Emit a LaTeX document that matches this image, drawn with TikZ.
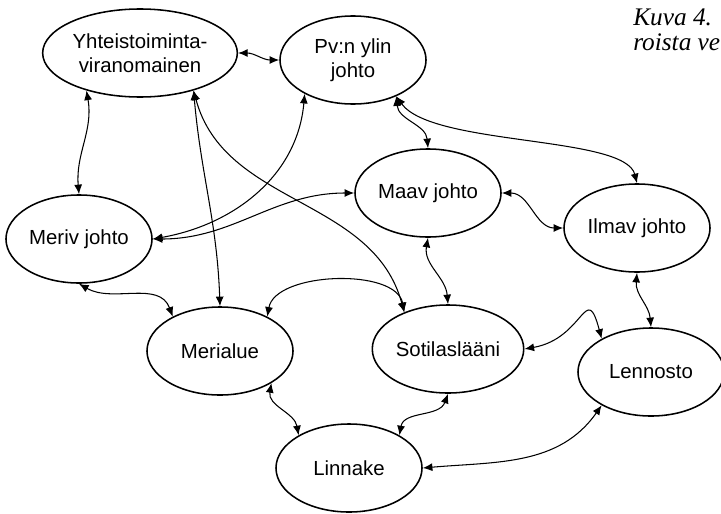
\documentclass[tikz,border=0pt]{standalone}
\usepackage{fontspec}
\setmainfont{Liberation Sans}
\newfontfamily\capfont{Liberation Serif}
\usetikzlibrary{shapes.geometric,arrows.meta}

\tikzset{
  unit/.style={ellipse, draw, line width=1.1pt, minimum width=3.65cm,
    minimum height=2.2cm, inner sep=1pt, align=center,
    font=\fontsize{14.5}{17}\selectfont},
  link/.style={<->, >={Latex[length=2.4mm,width=2mm]}, line width=0.75pt},
  caption/.style={anchor=base west, inner sep=0pt,
    font=\capfont\itshape\fontsize{18}{20}\selectfont},
}

\begin{document}
\begin{tikzpicture}[x=0.025cm, y=-0.025cm]
\useasboundingbox (0,0) rectangle (721,513);

% Fixed coordinates
\node[unit] (yht) at (140,53) {Yhteistoiminta-\\viranomainen};
\node[unit] (pv) at (353,60) {Pv:n ylin\\johto};
\node[unit] (meriv) at (79,239) {Meriv johto};
\node[unit] (maav) at (428,193) {Maav johto};
\node[unit] (ilmav) at (637,228) {Ilmav johto};
\node[unit] (merialue) at (220,351) {Merialue};
\node[unit] (sotilas) at (448,349) {Sotilaslääni};
\node[unit] (lennosto) at (651,372) {Lennosto};
\node[unit] (linnake) at (349,468) {Linnake};

% Caption, cut at the edge
\node[caption] (kuva) at (633,25) {Kuva 4.};
\node[caption] (kuva2) at (633,50) {roista ve};

% Links
\draw[link] (yht.east) to[out=0,in=180] (pv.west);
\draw[link] (yht.-145) to[out=-80,in=95] (meriv.north);
\draw[link] (yht.-35) to[out=-85,in=92] (merialue.north);
\draw[link] (yht.-35) to[out=-75,in=105] (sotilas.140);
\draw[link] (pv.-145) to[out=-95,in=10] (meriv.east);
\draw[link] (pv.-40) to[out=-85,in=95] (maav.north);
\draw[link] (pv.-40) .. controls +(36,50) and +(-12,-48) .. (ilmav.north);
\draw[link] (meriv.east) to[out=0,in=180] (maav.west);
\draw[link] (maav.east) to[out=0,in=180] (ilmav.west);
\draw[link] (maav.south) to[out=-100,in=95] (sotilas.north);
\draw[link] (meriv.south) to[out=-30,in=110] (merialue.144);
\draw[link] (merialue.36) to[out=80,in=100,looseness=0.85] (sotilas.140);
\draw[link] (merialue.-32) to[out=-100,in=100] (linnake.147);
\draw[link] (sotilas.south) to[out=-110,in=80] (linnake.33);
\draw[link] (sotilas.east) to[out=10,in=105,looseness=2] (lennosto.146);
\draw[link] (ilmav.south) to[out=-95,in=95] (lennosto.north);
\draw[link] (lennosto.-146) to[out=-125,in=5] (linnake.east);
\end{tikzpicture}
\end{document}
